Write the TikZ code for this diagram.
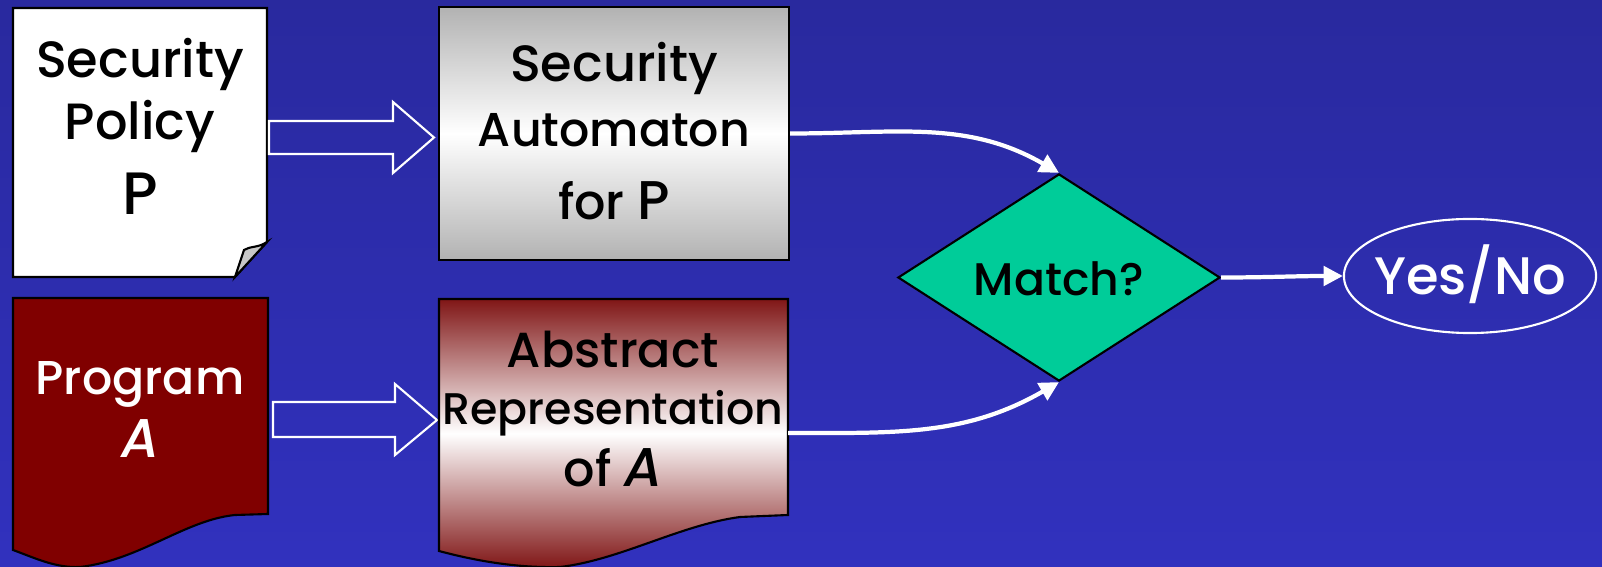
\documentclass[tikz,border=0pt]{standalone}
\usepackage{fontspec}
\setmainfont{Poppins}[UprightFont=* Medium, ItalicFont=* Medium Italic]
\usetikzlibrary{shapes.geometric,arrows.meta}

\definecolor{bgtop}{RGB}{41,41,158}
\definecolor{bgbot}{RGB}{49,49,190}
\definecolor{progred}{RGB}{128,0,0}
\definecolor{absred}{RGB}{128,22,22}
\definecolor{matchgreen}{RGB}{0,204,153}
\definecolor{boxgray}{RGB}{178,178,178}
\definecolor{foldgray}{RGB}{200,200,200}

\tikzset{
  x=0.01cm, y=-0.01cm,
  outline/.style={draw=black, line width=0.6pt, line join=miter},
  hollow/.style={draw=white, line width=0.6pt, line join=miter},
  txt/.style={anchor=base, inner sep=0pt, font=\fontsize{14}{16}\selectfont},
  bigtxt/.style={anchor=base, inner sep=0pt, font=\fontsize{15}{18}\selectfont},
  conn/.style={draw=white, line width=1.2pt, -{Triangle[length=5.5pt,width=5.5pt]}},
}

\begin{document}
\begin{tikzpicture}
% background
\shade[top color=bgtop, bottom color=bgbot] (0,0) rectangle (1602,567);
\useasboundingbox (0,0) rectangle (1602,567);

% security policy page with folded corner
\path[outline, fill=white] (13,8) -- (267,8) -- (267,242) -- (235,277) -- (13,277) -- cycle;
\path[outline, fill=foldgray] (235,277) -- (244,250) .. controls (250,246) and (258,248) .. (267,242) -- cycle;
\node[txt, font=\fontsize{14.5}{16}\selectfont] (pol1) at (140,78) {Security};
\node[txt, font=\fontsize{14.5}{16}\selectfont] (pol2) at (140,140) {Policy};
\node[txt, font=\fontsize{17}{20}\selectfont] (pol3) at (140,215) {P};

% program document
\path[outline, fill=progred] (13,298) -- (268,298) -- (268,514) -- (235,515)
  .. controls (185,520) and (140,560) .. (80,567)
  .. controls (55,568) and (35,558) .. (13,550) -- cycle;
\node[txt, white, font=\fontsize{13.5}{16}\selectfont] (prog1) at (140,395) {Program};
\node[txt, white, font=\fontsize{15.5}{18}\selectfont\itshape] (prog2) at (140,458) {A};

% hollow block arrows
\draw[hollow] (269,121) -- (393,121) -- (393,102) -- (434,137.5) -- (393,173) -- (393,154) -- (269,154) -- cycle;
\draw[hollow] (273,402) -- (395,402) -- (395,384) -- (437,420) -- (395,455) -- (395,437) -- (273,437) -- cycle;

% security automaton box
\node[rectangle, outline, top color=boxgray, bottom color=boxgray, middle color=white,
      minimum width=3.5cm, minimum height=2.53cm, inner sep=0pt] (auto) at (614,133.5) {};
\node[txt, font=\fontsize{14.5}{16}\selectfont] (aut1) at (614,82) {Security};
\node[txt, font=\fontsize{13.5}{16}\selectfont] (aut2) at (614,147) {Automaton};
\node[txt] (aut3) at (614,220) {for {\fontsize{15.5}{18}\selectfont P}};

% abstract representation document
\path[outline, top color=absred, bottom color=absred, middle color=white]
  (439,299) -- (788,299) -- (788,515) -- (740,517)
  .. controls (680,525) and (620,560) .. (560,567)
  .. controls (520,568) and (480,562) .. (439,551) -- cycle;
\coordinate (absout) at (788,433);
\node[txt, font=\fontsize{14}{16}\selectfont] (abs1) at (613,367) {Abstract};
\node[txt, font=\fontsize{12.6}{16}\selectfont] (abs2) at (613,425) {Representation};
\node[txt] (abs3) at (613,487) {of {\fontsize{15.5}{18}\selectfont\itshape A}};

% decision and result
\node[diamond, outline, fill=matchgreen, minimum width=3.22cm, minimum height=2.07cm,
      aspect=1.55, inner sep=0pt] (match) at (1059,277.5) {};
\node[bigtxt, font=\fontsize{13}{16}\selectfont] (matchtxt) at (1059,296) {Match?};
\node[ellipse, draw=white, line width=0.6pt, minimum width=2.52cm, minimum height=1.14cm,
      inner sep=0pt] (yn) at (1470,276) {};
\node[bigtxt, white] (yntxt) at (1470,295) {Yes/No};

% connectors
\draw[conn] (auto.east) to[out=0, in=150] (match.north);
\draw[conn] (absout) to[out=0, in=-150] (match.south);
\draw[conn] (match.east) to[out=0, in=180] (yn.west);
\end{tikzpicture}
\end{document}
